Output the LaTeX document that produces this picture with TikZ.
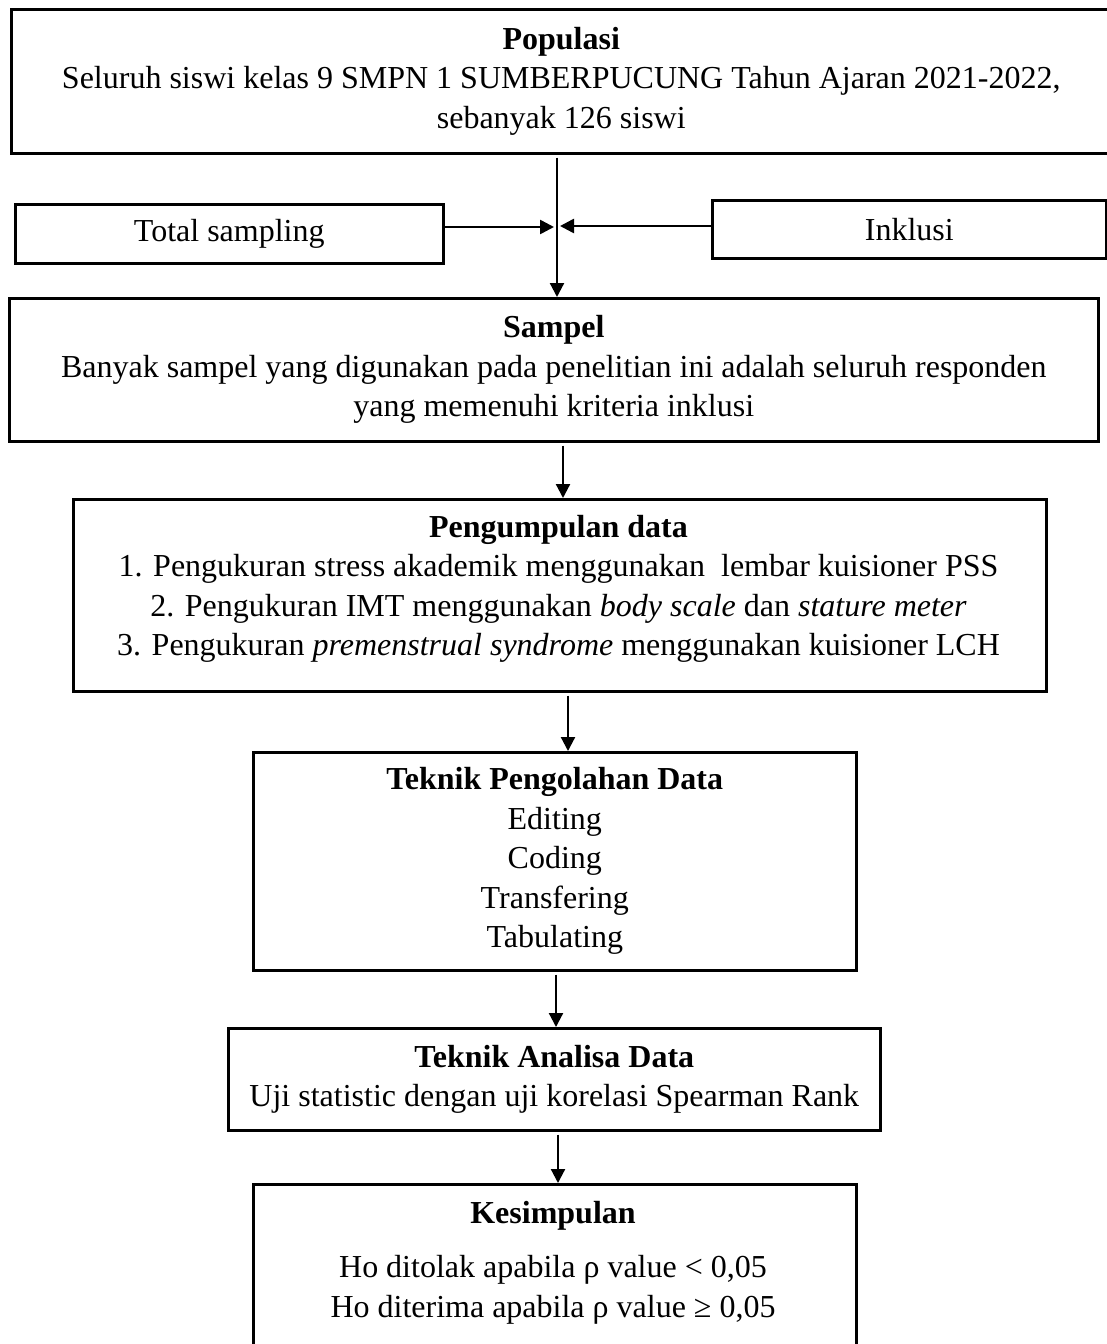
\documentclass[tikz,border=0pt]{standalone}
\usepackage{fontspec}
\setmainfont{Liberation Serif}
\usetikzlibrary{arrows.meta}
\begin{document}
\begin{tikzpicture}[x=1pt,y=-1pt,
  box/.style={draw, line width=2.6pt, rectangle, anchor=north west, inner sep=0pt, align=center, font=\fontsize{32}{39.5}\selectfont},
  txt/.style={inner sep=0pt, align=center, font=\fontsize{32}{39.5}\selectfont},
  arr/.style={line width=2.2pt, shorten <=3pt, -{Triangle[length=14pt,width=14pt]}}]
\useasboundingbox (0,0) rectangle (1106,1344);
% boxes
\node[box, minimum width=1100pt, minimum height=144pt] (pop) at (10,8)
  {\textbf{Populasi}\\Seluruh siswi kelas 9 SMPN 1 SUMBERPUCUNG Tahun Ajaran 2021-2022,\\sebanyak 126 siswi};
\node[box, minimum width=428pt, minimum height=59pt] (total) at (14,203) {Total sampling};
\node[box, minimum width=394pt, minimum height=58pt] (inkl) at (711,199) {Inklusi};
\node[box, minimum width=1089pt, minimum height=143pt] (sampel) at (8,297)
  {\textbf{Sampel}\\Banyak sampel yang digunakan pada penelitian ini adalah seluruh responden\\yang memenuhi kriteria inklusi};
\node[box, minimum width=973pt, minimum height=192pt] (kumpul) at (72,498) {};
\node[txt] (kumpulT) at (558.5,589)
  {\textbf{Pengumpulan data}\\1. Pengukuran stress akademik menggunakan\ \ lembar kuisioner PSS\\2. Pengukuran IMT menggunakan \textit{body scale} dan \textit{stature meter}\\3. Pengukuran \textit{premenstrual syndrome} menggunakan kuisioner LCH};
\node[box, minimum width=603pt, minimum height=218pt] (olah) at (252,751)
  {\textbf{Teknik Pengolahan Data}\\Editing\\Coding\\Transfering\\Tabulating};
\node[box, minimum width=652pt, minimum height=102pt] (analisa) at (227,1027)
  {\textbf{Teknik Analisa Data}\\Uji statistic dengan uji korelasi Spearman Rank};
\node[box, minimum width=603pt, minimum height=200pt] (kes) at (252,1183) {};
\node[txt] (kesT) at (553,1216) {\textbf{Kesimpulan}};
\node[txt] (kesL) at (553,1290) {Ho ditolak apabila ρ value < 0,05\\Ho diterima apabila ρ value ≥ 0,05};
% helper coordinates
\coordinate (c1) at (557,0);
\coordinate (c2) at (563,0);
\coordinate (c3) at (568,0);
\coordinate (c4) at (556,0);
\coordinate (c5) at (558,0);
\coordinate (jl) at (554,227);
\coordinate (jr) at (560,226);
% connectors
\draw[arr] (pop.south -| c1) -- (sampel.north -| c1);
\draw[arr, line width=2.6pt, shorten <=0pt] (total.east |- jl) -- (jl);
\draw[arr, line width=2.6pt, shorten <=0pt] (inkl.west |- jr) -- (jr);
\draw[arr] (sampel.south -| c2) -- (kumpul.north -| c2);
\draw[arr] (kumpul.south -| c3) -- (olah.north -| c3);
\draw[arr] (olah.south -| c4) -- (analisa.north -| c4);
\draw[arr] (analisa.south -| c5) -- (kes.north -| c5);
\end{tikzpicture}
\end{document}
